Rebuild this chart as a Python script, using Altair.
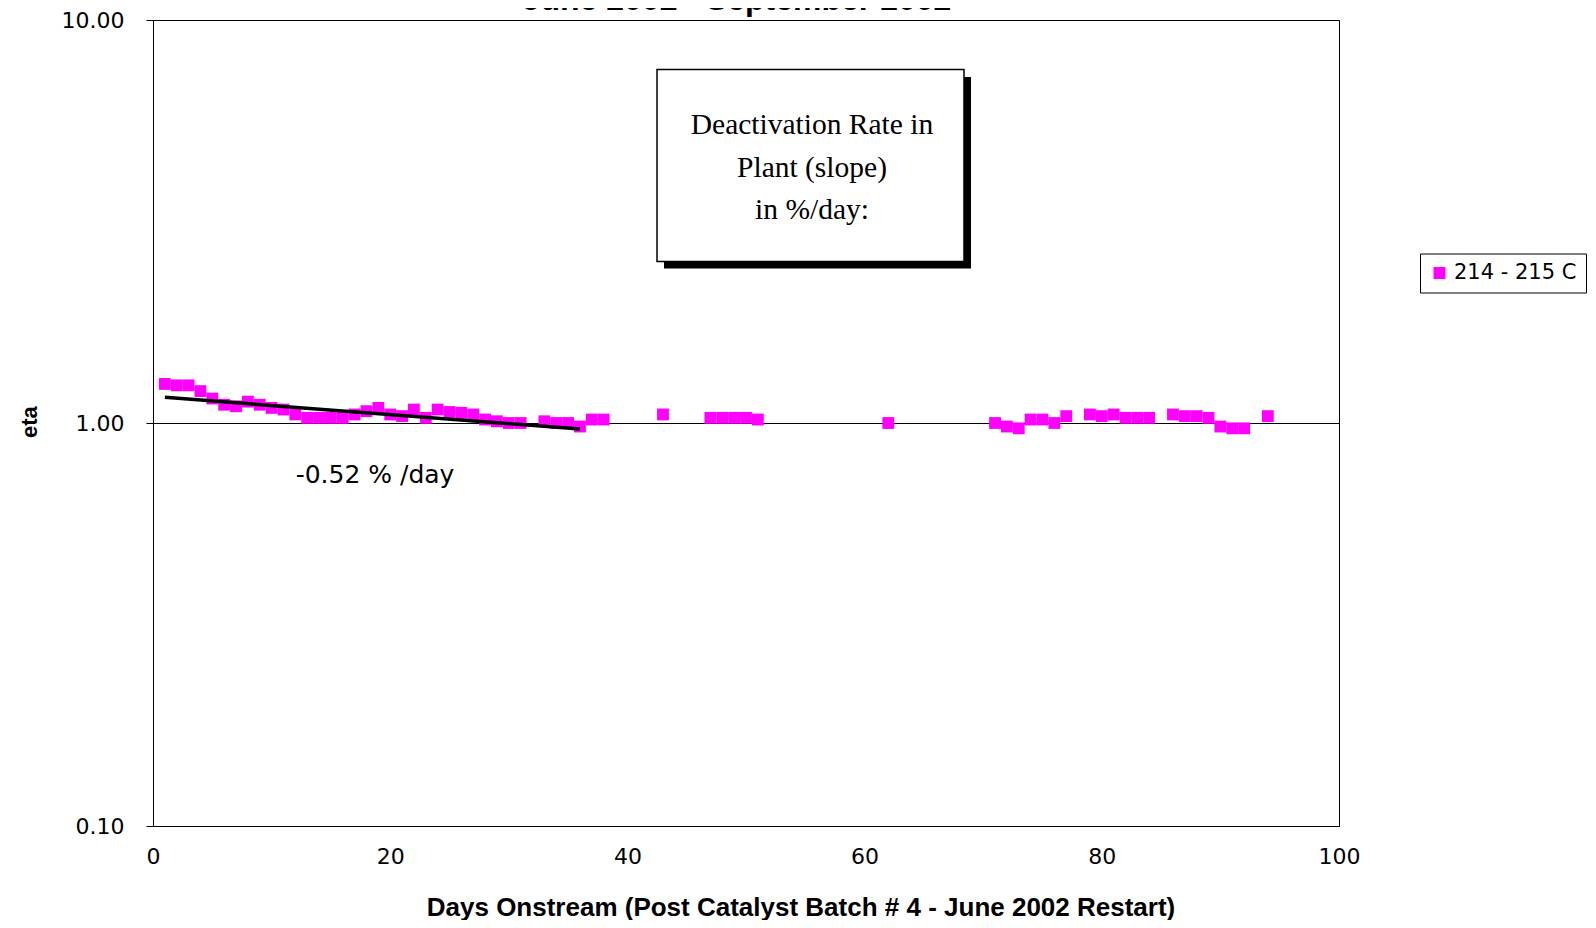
import altair as alt
import pandas as pd

# ---- data ----
days = [1, 2, 3, 4, 5, 6, 7, 8, 9, 10, 11, 12, 13, 14, 15, 16, 17, 18, 19, 20,
        21, 22, 23, 24, 25, 26, 27, 28, 29, 30, 31,
        33, 34, 35, 36, 37, 38,
        43,
        47, 48, 49, 50, 51,
        62,
        71, 72, 73, 74, 75, 76, 77,
        79, 80, 81, 82, 83, 84,
        86, 87, 88, 89, 90, 91, 92,
        94]
eta = [1.25, 1.24, 1.24, 1.20, 1.15, 1.11, 1.10, 1.13, 1.11, 1.09, 1.08, 1.05, 1.03, 1.03, 1.03, 1.03, 1.05, 1.07, 1.09, 1.05,
       1.04, 1.08, 1.03, 1.08, 1.065, 1.06, 1.05, 1.02, 1.01, 1.00, 1.00,
       1.01, 1.00, 1.00, 0.98, 1.02, 1.02,
       1.05,
       1.03, 1.03, 1.03, 1.03, 1.02,
       1.00,
       1.00, 0.98, 0.97, 1.02, 1.02, 1.00, 1.04,
       1.05, 1.04, 1.05, 1.03, 1.03, 1.03,
       1.05, 1.04, 1.04, 1.03, 0.98, 0.97, 0.97,
       1.04]
series_name = "214 - 215 C"

trend_days = [1, 36]
trend_eta = [1.158, 0.966]

x_ticks = [0, 20, 40, 60, 80, 100]
y_ticks = [0.1, 1, 10]

title_text = "June 2002 - September 2002"
x_title = "Days Onstream (Post Catalyst Batch # 4 - June 2002 Restart)"
y_title = "eta"
box_lines = ["Deactivation Rate in", "Plant (slope)", "in %/day:"]
slope_label = "-0.52 % /day"

# ---- tables ----
pts = pd.DataFrame({"day": days, "eta": eta, "series": [series_name] * len(days)})
trend = pd.DataFrame({"day": trend_days, "eta": trend_eta})
one = pd.DataFrame({"k": [0]})

W, H = 1186, 806

x_enc = alt.X(
    "day:Q",
    scale=alt.Scale(domain=[0, 100], nice=False, zero=False),
    axis=alt.Axis(
        values=x_ticks, format="d", title=x_title, ticks=False, grid=False,
        labelFlush=False, labelOverlap=False,
        labelPadding=20, labelFont="DejaVu Sans", labelFontSize=22,
        titleX=647.5, titleY=89, titleAlign="center", titleBaseline="alphabetic",
        titleFont="Liberation Sans", titleFontSize=26, titleFontWeight="bold",
    ),
)
y_enc = alt.Y(
    "eta:Q",
    scale=alt.Scale(type="log", domain=[0.1, 10], nice=False),
    axis=alt.Axis(
        values=y_ticks, format=".2f", title=y_title, tickSize=7, labelPadding=22,
        labelFlush=False, labelOverlap=False,
        labelFont="DejaVu Sans", labelFontSize=22,
        grid=True, gridColor="black", gridOpacity=1, gridWidth=1,
        titleX=-124, titleY=401.7, titleAngle=270, titleAlign="center",
        titleBaseline="middle", titleFont="Liberation Sans", titleFontSize=22,
        titleFontWeight="bold",
    ),
)

points = alt.Chart(pts).mark_point(shape="square", filled=True, size=140, opacity=1).encode(
    x=x_enc,
    y=y_enc,
    color=alt.Color(
        "series:N",
        scale=alt.Scale(domain=[series_name], range=["#FF00FF"]),
        legend=alt.Legend(
            title=None, orient="none", legendX=1267, legendY=233.5,
            symbolType="square", symbolSize=144, symbolStrokeWidth=0,
            labelFont="DejaVu Sans", labelFontSize=21, labelColor="black",
            labelOffset=4, padding=9, strokeColor="black", fillColor="white",
            cornerRadius=0,
        ),
    ),
)

line = alt.Chart(trend).mark_line(color="black", strokeWidth=3.5).encode(
    x="day:Q", y="eta:Q"
)

shadow = alt.Chart(one).mark_rect(fill="black").encode(
    x=alt.value(511), x2=alt.value(818), y=alt.value(57), y2=alt.value(248.5)
)
box = alt.Chart(one).mark_rect(fill="white", stroke="black", strokeWidth=1.5).encode(
    x=alt.value(504), x2=alt.value(811), y=alt.value(49.5), y2=alt.value(241.5)
)
box_text = alt.Chart(one).mark_text(
    text=box_lines, font="Liberation Serif", fontSize=29.5, lineHeight=42.5,
    align="center", baseline="alphabetic", color="black",
).encode(x=alt.value(659), y=alt.value(114))

slope_text = alt.Chart(one).mark_text(
    text=slope_label, font="DejaVu Sans", fontSize=25, align="center",
    baseline="alphabetic", color="black",
).encode(x=alt.value(222), y=alt.value(463))

title = alt.Chart(one).mark_text(
    text=title_text, font="Liberation Sans", fontSize=32, fontWeight="bold",
    align="center", baseline="alphabetic", color="black",
).encode(x=alt.value(584), y=alt.value(-10))

chart = alt.layer(points, line, shadow, box, box_text, slope_text, title).properties(
    width=W, height=H,
    autosize=alt.AutoSizeParams(type="none"),
    padding={"left": 145, "top": 12, "right": 249, "bottom": 94},
    background="white",
).configure_view(
    stroke="black", strokeWidth=1
).configure_axis(
    domainColor="black", tickColor="black", labelColor="black", titleColor="black",
    domainWidth=1,
)

chart.save("out.html", embed_options={"renderer": "svg", "actions": False})
